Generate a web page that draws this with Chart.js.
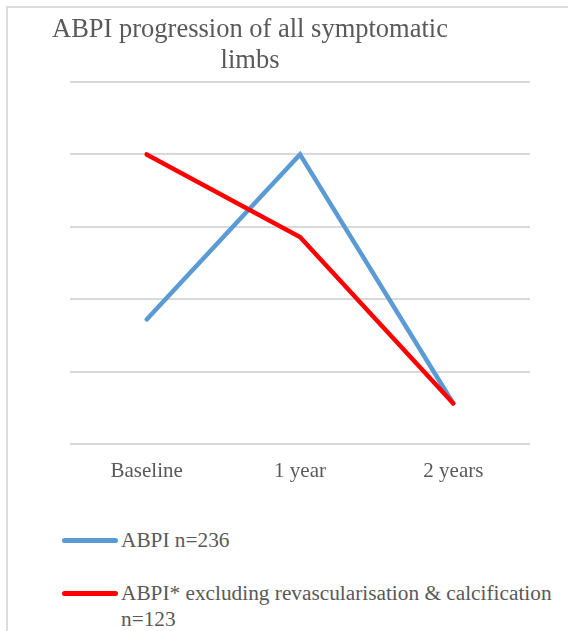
<!DOCTYPE html>
<html>
<head>
<meta charset="utf-8">
<script src="https://cdn.jsdelivr.net/npm/chart.js@4.4.1/dist/chart.umd.min.js"></script>
<style>
  html, body { margin: 0; padding: 0; background: #fff; }
  body { width: 568px; height: 631px; position: relative; overflow: hidden; }
  #frame {
    position: absolute; left: 6px; top: 6px; right: -10px; bottom: -10px;
    border-top: 2px solid #dcdcdc; border-left: 2px solid #dcdcdc;
  }
  #title {
    position: absolute; left: 40px; width: 420px; top: 13px;
    font-family: 'Liberation Serif', serif;
    font-size: 26.5px; line-height: 31px; color: #595959; text-align: center;
  }
  #wrap { position: absolute; left: 0; top: 0; width: 568px; height: 490px; }
  #legend {
    position: absolute; left: 62px; top: 527px; width: 500px;
    font-family: 'Liberation Serif', serif;
    font-size: 21.3px; line-height: 26px; color: #595959;
  }
  .item { display: flex; align-items: flex-start; margin-bottom: 27px; }
  .swatch { width: 56px; height: 5px; border-radius: 3px; margin-top: 11px; margin-right: 3px; flex: none; }
  .text { width: 445px; }
</style>
</head>
<body>
<div id="frame"></div>
<div id="wrap"><canvas id="chart"></canvas></div>
<div id="title">ABPI progression of all symptomatic<br>limbs</div>
<div id="legend"></div>
<script>
// Follow-up time points
const categories = ['Baseline', '1 year', '2 years'];

// Mean ABPI at each time point
const abpiAll = [0.686, 0.800, 0.628];
const abpiExcluding = [0.800, 0.743, 0.628];

const seriesLabels = ['ABPI n=236', 'ABPI* excluding revascularisation & calcification n=123'];
const seriesColors = ['#5b9bd5', '#ff0000'];

// Value axis range (ticks hidden, gridlines only)
const yMin = 0.60, yMax = 0.85, yStep = 0.05;

const serifFamily = `'Liberation Serif', serif`;

const chart = new Chart(document.getElementById('chart'), {
  type: 'line',
  data: {
    labels: categories,
    datasets: [
      { label: seriesLabels[0], data: abpiAll, borderColor: seriesColors[0], order: 1 },
      { label: seriesLabels[1], data: abpiExcluding, borderColor: seriesColors[1], order: 0 }
    ].map(d => Object.assign(d, {
      borderWidth: 4.5, pointRadius: 0, pointHoverRadius: 0, tension: 0,
      fill: false, borderCapStyle: 'round', borderJoinStyle: 'miter'
    }))
  },
  options: {
    responsive: true,
    maintainAspectRatio: false,
    animation: false,
    layout: { padding: { left: 70, right: 38, top: 82, bottom: 0 } },
    plugins: { legend: { display: false }, title: { display: false }, tooltip: { enabled: false } },
    scales: {
      x: {
        offset: true,
        grid: { display: false, drawTicks: false },
        border: { display: false },
        ticks: { color: '#595959', font: { family: serifFamily, size: 21 }, padding: 15, maxRotation: 0 },
        afterFit: s => { s.height = 46; }
      },
      y: {
        min: yMin, max: yMax,
        grid: { color: '#d9d9d9', lineWidth: 2, drawTicks: false },
        border: { display: false },
        ticks: { display: false, stepSize: yStep },
        afterFit: s => { s.width = 0; }
      }
    }
  }
});

// Legend listing the series, one per row
const legend = document.getElementById('legend');
chart.data.datasets.forEach(ds => {
  const item = document.createElement('div');
  item.className = 'item';
  const sw = document.createElement('div');
  sw.className = 'swatch';
  sw.style.background = ds.borderColor;
  const tx = document.createElement('div');
  tx.className = 'text';
  tx.textContent = ds.label;
  item.appendChild(sw);
  item.appendChild(tx);
  legend.appendChild(item);
});
</script>
</body>
</html>
